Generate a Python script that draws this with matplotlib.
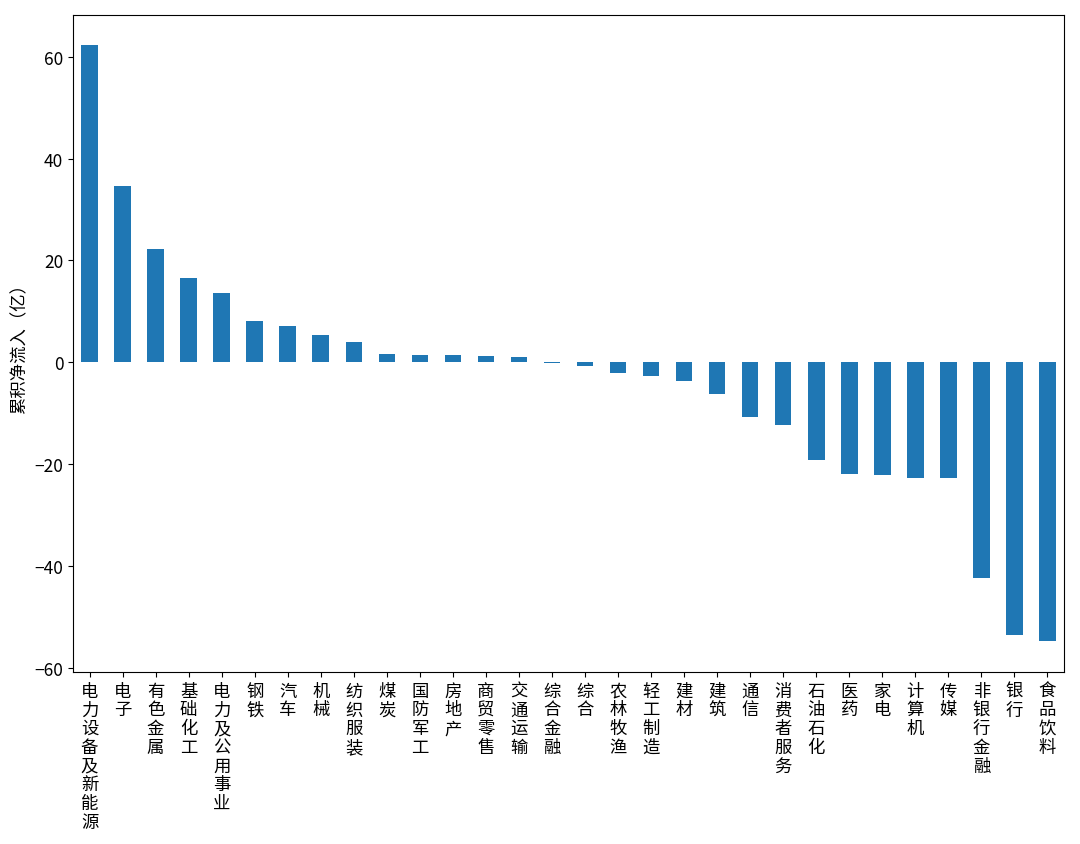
import matplotlib
matplotlib.use("Agg")
import matplotlib.pyplot as plt

plt.rcParams['font.family'] = ['Noto Sans CJK SC', 'DejaVu Sans']
plt.rcParams['axes.unicode_minus'] = True

categories = ["电力设备及新能源", "电子", "有色金属", "基础化工", "电力及公用事业", "钢铁", "汽车", "机械",
              "纺织服装", "煤炭", "国防军工", "房地产", "商贸零售", "交通运输", "综合金融", "综合",
              "农林牧渔", "轻工制造", "建材", "建筑", "通信", "消费者服务", "石油石化", "医药", "家电",
              "计算机", "传媒", "非银行金融", "银行", "食品饮料"]
values = [62.3, 34.6, 22.2, 16.5, 13.6, 8.1, 7.1, 5.3, 3.9, 1.6, 1.5, 1.5, 1.3, 1.1, -0.2, -0.8,
          -2.1, -2.6, -3.7, -6.2, -10.8, -12.3, -19.2, -22.0, -22.1, -22.7, -22.7, -42.4, -53.6, -54.8]
ylabel = "累积净流入（亿）"

fig = plt.figure(figsize=(10.8, 8.45), dpi=100)
ax = fig.add_axes([73/1080, 1 - 673/845, (1064-73)/1080, (673-16)/845])
x = list(range(len(categories)))
ax.bar(x, values, width=0.5, color='#1f77b4')
ax.set_xlim(-0.5, len(categories) - 0.5)
ax.set_ylim(-60.8, 68.2)
ax.set_yticks([-60, -40, -20, 0, 20, 40, 60])
ax.set_xticks(x)
ax.set_xticklabels(["\n".join(c) for c in categories], fontsize=12.5, linespacing=1.05)
ax.tick_params(axis='y', labelsize=12.5)
ax.set_ylabel(ylabel, fontsize=12.5)
fig.savefig("out.png", dpi=100)
